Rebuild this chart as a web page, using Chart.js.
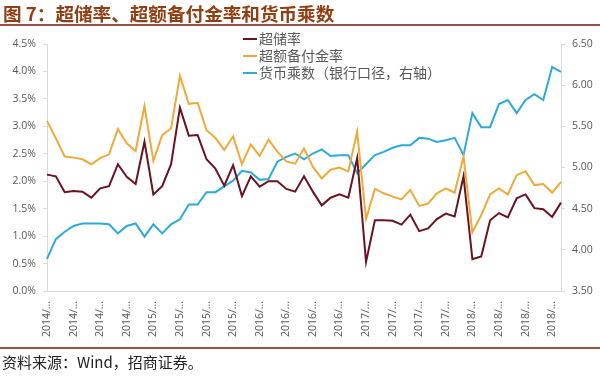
<!DOCTYPE html>
<html>
<head>
<meta charset="utf-8">
<script src="https://cdn.jsdelivr.net/npm/chart.js@4"></script>
<style>
    html, body { margin: 0; padding: 0; background: #fff; }
    .wrap { position: relative; width: 600px; height: 376px; overflow: hidden; }
    .title {
        position: absolute; left: 3px; top: 1px;
        font: bold 18.6px "Noto Sans CJK SC", sans-serif; line-height: 23px;
        color: #923f14; white-space: nowrap;
    }
    .rule { position: absolute; left: 0; width: 600px; height: 2px; background: #9a5248; }
    .legend {
        position: absolute; left: 243px; top: 30px;
        font: 14px "Noto Sans CJK SC", sans-serif; line-height: 17px; color: #595959;
    }
    .legend .item { white-space: nowrap; }
    .legend .swatch { display: inline-block; width: 14px; height: 2px; vertical-align: middle; margin-right: 2px; position: relative; top: -1px; }
    .source {
        position: absolute; left: 2px; top: 353px;
        font: 15px "Noto Sans CJK SC", sans-serif; line-height: 18px; color: #222;
    }
    canvas { position: absolute; left: 0; top: 0; }
</style>
</head>
<body>
<div class="wrap">
    <canvas id="reserveChart" width="600" height="376"></canvas>
    <div class="title">图 7：超储率、超额备付金率和货币乘数</div>
    <div class="rule" style="top:24px"></div>
    <div class="legend">
        <div class="item"><span class="swatch" style="background:#6b1420"></span>超储率</div>
        <div class="item"><span class="swatch" style="background:#f0a93b"></span>超额备付金率</div>
        <div class="item"><span class="swatch" style="background:#2eaad8"></span>货币乘数（银行口径，右轴）</div>
    </div>
    <div class="rule" style="top:347px"></div>
    <div class="source">资料来源：Wind，招商证券。</div>
</div>

<script>
// months 2014/01 - 2018/11
const years = ['2014', '2015', '2016', '2017', '2018'];
const months = [];
years.forEach(y => {
    for (let m = 1; m <= 12; m++) {
        if (y === '2018' && m > 11) break;
        months.push(y + '/' + String(m).padStart(2, '0'));
    }
});

// 超储率 (%)
const superReserve = [2.12, 2.09, 1.80, 1.82, 1.81, 1.70, 1.87, 1.91, 2.31, 2.08, 1.95, 2.72,
    1.76, 1.91, 2.31, 3.34, 2.83, 2.84, 2.40, 2.23, 1.92, 2.29, 1.73, 2.09,
    1.90, 2.00, 2.00, 1.86, 1.81, 2.09, 1.81, 1.56, 1.70, 1.76, 1.70, 2.42,
    0.53, 1.29, 1.29, 1.28, 1.21, 1.39, 1.09, 1.14, 1.31, 1.41, 1.36, 2.09,
    0.58, 0.63, 1.29, 1.42, 1.34, 1.69, 1.76, 1.51, 1.49, 1.35, 1.61];

// 超额备付金率 (%)
const excessReserve = [3.10, 2.78, 2.45, 2.43, 2.40, 2.31, 2.42, 2.49, 2.95, 2.69, 2.55, 3.37,
    2.37, 2.84, 2.96, 3.92, 3.41, 3.43, 2.93, 2.79, 2.57, 2.82, 2.31, 2.67,
    2.46, 2.76, 2.54, 2.36, 2.32, 2.60, 2.26, 2.05, 2.21, 2.25, 2.18, 2.90,
    1.31, 1.86, 1.78, 1.72, 1.67, 1.84, 1.55, 1.59, 1.78, 1.87, 1.79, 2.45,
    1.07, 1.38, 1.76, 1.87, 1.76, 2.11, 2.18, 1.93, 1.95, 1.79, 1.99];

// 货币乘数 (右轴)
const moneyMultiplier = [3.89, 4.13, 4.22, 4.29, 4.32, 4.32, 4.32, 4.31, 4.20, 4.29, 4.32, 4.16,
    4.31, 4.20, 4.31, 4.37, 4.55, 4.55, 4.70, 4.70, 4.77, 4.84, 4.96, 4.94,
    4.85, 4.86, 5.07, 5.13, 5.17, 5.10, 5.17, 5.22, 5.14, 5.15, 5.15, 4.93,
    5.04, 5.15, 5.19, 5.24, 5.27, 5.27, 5.36, 5.35, 5.31, 5.33, 5.36, 5.15,
    5.66, 5.49, 5.49, 5.77, 5.82, 5.66, 5.82, 5.89, 5.82, 6.22, 6.16];

const axisGray = '#d9d9d9';
const textGray = '#595959';

Chart.defaults.font.family = '"Open Sans", sans-serif';
Chart.defaults.font.size = 10.5;
Chart.defaults.color = textGray;

window.addEventListener('DOMContentLoaded', () => {
    const ctx = document.getElementById('reserveChart').getContext('2d');

    new Chart(ctx, {
        type: 'line',
        data: {
            labels: months,
            datasets: [
                { label: '超储率', data: superReserve, borderColor: '#6b1420', yAxisID: 'y' },
                { label: '超额备付金率', data: excessReserve, borderColor: '#f0a93b', yAxisID: 'y' },
                { label: '货币乘数（银行口径，右轴）', data: moneyMultiplier, borderColor: '#2eaad8', yAxisID: 'y1' }
            ]
        },
        options: {
            responsive: false,
            animation: false,
            datasets: {
                line: { borderWidth: 2, pointRadius: 0, tension: 0, fill: false }
            },
            layout: { padding: { top: 44, bottom: 30, left: 0, right: 0 } },
            plugins: {
                legend: { display: false },
                tooltip: { enabled: false }
            },
            scales: {
                x: {
                    grid: { display: false },
                    border: { color: axisGray },
                    ticks: {
                        autoSkip: false,
                        maxRotation: 90,
                        minRotation: 90,
                        padding: 2,
                        // every 3rd month, cut like Excel does
                        callback: function (val, i) {
                            return i % 3 === 0 ? this.getLabelForValue(val).slice(0, 5) + '…' : null;
                        }
                    },
                    afterFit: scale => { scale.height = 55; }
                },
                y: {
                    position: 'left',
                    min: 0,
                    max: 4.5,
                    grid: { drawOnChartArea: false, tickLength: 4, color: axisGray },
                    border: { color: axisGray },
                    ticks: { stepSize: 0.5, padding: 7, callback: v => v.toFixed(1) + '%' },
                    afterFit: scale => { scale.width = 47; }
                },
                y1: {
                    position: 'right',
                    min: 3.5,
                    max: 6.5,
                    grid: { drawOnChartArea: false, tickLength: 4, color: axisGray },
                    border: { color: axisGray },
                    ticks: { stepSize: 0.5, padding: 7, callback: v => v.toFixed(2) },
                    afterFit: scale => { scale.width = 39; }
                }
            }
        }
    });
});
</script>
</body>
</html>
